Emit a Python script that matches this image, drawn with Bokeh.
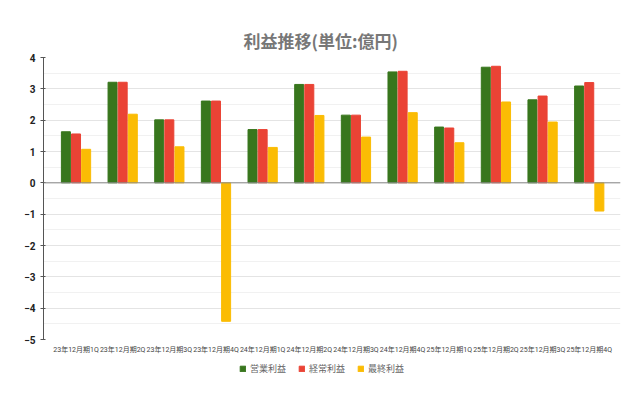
from bokeh.plotting import figure
from bokeh.layouts import column
from bokeh.models import (ColumnDataSource, Range1d, FixedTicker, Span, Legend, LegendItem)
from bokeh.embed import file_html
from bokeh.resources import INLINE

categories = ["23年12月期1Q", "23年12月期2Q", "23年12月期3Q", "23年12月期4Q",
              "24年12月期1Q", "24年12月期2Q", "24年12月期3Q", "24年12月期4Q",
              "25年12月期1Q", "25年12月期2Q", "25年12月期3Q", "25年12月期4Q"]
operating = [1.63, 3.21, 2.01, 2.61, 1.70, 3.14, 2.16, 3.54, 1.78, 3.69, 2.65, 3.09]
ordinary = [1.56, 3.21, 2.01, 2.61, 1.70, 3.14, 2.16, 3.56, 1.75, 3.72, 2.77, 3.20]
net = [1.07, 2.19, 1.15, -4.42, 1.13, 2.15, 1.46, 2.24, 1.28, 2.58, 1.94, -0.90]
series_names = ["営業利益", "経常利益", "最終利益"]
colors = ["#38761d", "#ea4335", "#fbbc04"]
y_ticks = [-5, -4, -3, -2, -1, 0, 1, 2, 3, 4]

idx = list(range(len(categories)))
src = ColumnDataSource(dict(
    x=idx,
    x0=[i - 0.217 for i in idx],
    x2=[i + 0.217 for i in idx],
    op=operating, od=ordinary, nt=net,
))

W = 632
p = figure(width=W, height=356, output_backend="svg", toolbar_location=None,
           x_range=Range1d(-0.697, 11.67), y_range=Range1d(-5, 4),
           min_border_left=43, min_border_right=12, min_border_top=57,
           min_border_bottom=15, title="利益推移(単位:億円)")
p.outline_line_color = None

p.title.align = "left"
p.title.vertical_align = "bottom"
p.title.text_font = "Noto Sans CJK JP"
p.title.text_font_size = "17px"
p.title.text_font_style = "bold"
p.title.text_color = "#777777"
p.title.offset = 200

bars = []
for key, xcol, c in zip(["op", "od", "nt"], ["x0", "x", "x2"], colors):
    bars.append(p.vbar(x=xcol, top=key, bottom=0, width=0.193, source=src, color=c))

p.add_layout(Span(location=0, dimension="width", line_color="#8a8a8a", line_width=1))

# y axis
p.yaxis.ticker = FixedTicker(ticks=y_ticks, minor_ticks=[t + 0.5 for t in y_ticks[:-1]])
p.yaxis.axis_line_color = "#555555"
p.yaxis.major_tick_line_color = "#555555"
p.yaxis.major_tick_in = 2
p.yaxis.major_tick_out = 3
p.yaxis.minor_tick_line_color = None
p.yaxis.major_label_text_font = "Roboto"
p.yaxis.major_label_text_font_size = "10px"
p.yaxis.major_label_text_font_style = "bold"
p.yaxis.major_label_text_color = "#222222"
p.yaxis.major_label_standoff = 4

p.ygrid.grid_line_color = "#e4e4e4"
p.ygrid.minor_grid_line_color = "#f1f1f1"
p.xgrid.grid_line_color = None

# x axis
p.xaxis.ticker = FixedTicker(ticks=idx)
p.xaxis.major_label_overrides = {i: c for i, c in zip(idx, categories)}
p.xaxis.axis_line_color = None
p.xaxis.major_tick_line_color = None
p.xaxis.minor_tick_line_color = None
p.xaxis.major_label_text_font = "Roboto, 'Noto Sans CJK JP'"
p.xaxis.major_label_text_font_size = "7px"
p.xaxis.major_label_text_color = "#444444"
p.xaxis.major_label_standoff = 0

# legend strip below the chart (same series, drawn out of view)
lp = figure(width=W, height=26, output_backend="svg", toolbar_location=None,
            x_range=p.x_range, y_range=Range1d(100, 101),
            min_border_left=0, min_border_right=0, min_border_top=0, min_border_bottom=0)
lp.axis.visible = False
lp.grid.grid_line_color = None
lp.outline_line_color = None
lbars = []
for key, xcol, c in zip(["op", "od", "nt"], ["x0", "x", "x2"], colors):
    lbars.append(lp.vbar(x=xcol, top=key, bottom=0, width=0.193, source=src, color=c))

legend = Legend(items=[LegendItem(label=n, renderers=[r]) for n, r in zip(series_names, lbars)],
                orientation="horizontal", location=(196, 7),
                glyph_width=7, glyph_height=7, label_text_font="Noto Sans CJK JP",
                label_text_font_size="9px", label_text_color="#666666",
                label_standoff=4, spacing=12, border_line_color=None,
                background_fill_alpha=0, margin=0, padding=0)
lp.add_layout(legend, "center")

layout = column(p, lp, spacing=0)
open("out.html", "w").write(file_html(layout, INLINE))
